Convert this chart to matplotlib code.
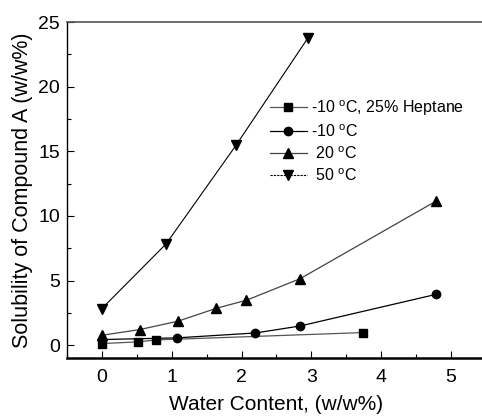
import numpy as np
import matplotlib.pyplot as plt
from matplotlib.ticker import MultipleLocator

plt.rcParams['font.family'] = ['Liberation Sans', 'DejaVu Sans']
plt.rcParams['mathtext.fontset'] = 'custom'
plt.rcParams['mathtext.rm'] = 'Liberation Sans'

# data
hep_x = [0.0, 0.52, 0.77, 3.74]
hep_y = [0.13, 0.26, 0.41, 0.98]

m10_x = [0.0, 1.07, 2.2, 2.84, 4.79]
m10_y = [0.44, 0.57, 0.95, 1.49, 3.94]

t20_x = [0.0, 0.54, 1.09, 1.64, 2.07, 2.84, 4.79]
t20_y = [0.77, 1.21, 1.86, 2.86, 3.48, 5.15, 11.16]

t50_x = [0.0, 0.92, 1.92, 2.95]
t50_y = [2.84, 7.84, 15.46, 23.76]

fig = plt.figure(figsize=(4.82, 4.16), dpi=100)
ax = fig.add_axes([0.139, 0.139, 0.869, 0.808])

ax.plot(hep_x, hep_y, color='#555555', lw=0.9, marker='s', ms=5.5, mfc='black', mec='black',
        label='-10 $^{\\mathrm{o}}$C, 25% Heptane')
ax.plot(m10_x, m10_y, color='black', lw=0.9, marker='o', ms=6, mfc='black', mec='black',
        label='-10 $^{\\mathrm{o}}$C')
ax.plot(t20_x, t20_y, color='#444444', lw=0.9, marker='^', ms=7, mfc='black', mec='black',
        label=' 20 $^{\\mathrm{o}}$C')
ax.plot(t50_x, t50_y, color='black', lw=0.8, marker='v', ms=7, mfc='black', mec='black')
# legend entry for 50 C is drawn dashed, as in the original
ax.plot([], [], color='black', lw=0.8, ls=(0, (2, 1)), marker='v', ms=7, mfc='black', mec='black',
        label=' 50 $^{\\mathrm{o}}$C')

ax.set_xlim(-0.5, 5.5)
ax.set_ylim(-1, 25)
ax.xaxis.set_major_locator(MultipleLocator(1))
ax.xaxis.set_minor_locator(MultipleLocator(0.5))
ax.yaxis.set_major_locator(MultipleLocator(5))
ax.yaxis.set_minor_locator(MultipleLocator(2.5))
ax.tick_params(which='both', direction='in', labelsize=14, width=0.8)
ax.tick_params(which='major', length=5)
ax.tick_params(which='minor', length=3)
ax.tick_params(axis='x', pad=8)
ax.tick_params(axis='y', pad=5)

ax.spines['bottom'].set_linewidth(1.8)
ax.spines['left'].set_linewidth(1.0)
ax.spines['top'].set_color('#555555')
ax.spines['top'].set_linewidth(1.2)

ax.set_xlabel('Water Content, (w/w%)', fontsize=15, labelpad=6)
ax.set_ylabel('Solubility of Compound A (w/w%)', fontsize=15.5, labelpad=4)

ax.legend(loc='upper left', bbox_to_anchor=(0.469, 0.792), frameon=False, fontsize=11.5,
          handlelength=2.3, handletextpad=0.3, labelspacing=0.34, numpoints=1,
          borderaxespad=0)

fig.savefig('out.png', dpi=100)
